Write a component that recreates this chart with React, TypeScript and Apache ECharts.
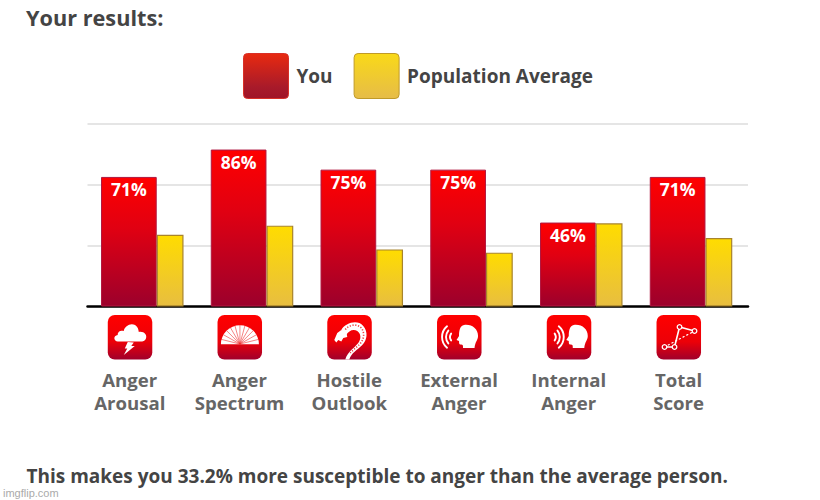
import React, { useEffect, useRef } from "react";
import * as echarts from "echarts";

const categories = ["Anger\nArousal", "Anger\nSpectrum", "Hostile\nOutlook", "External\nAnger", "Internal\nAnger", "Total\nScore"];
const youValues = [71, 86, 75, 75, 46, 71];
const averageValues = [39.3, 44.3, 31.3, 29.5, 45.6, 37.5];
const iconNames = ["storm", "fan", "snake", "external", "internal", "score"];
const FONT = '"Open Sans", sans-serif';
const SWATCH = "path://M4 0H41A4 4 0 0 1 45 4V41A4 4 0 0 1 41 45H4A4 4 0 0 1 0 41V4A4 4 0 0 1 4 0Z";

const HEAD = "M27 10C35 9 41 14 41 21C41 25 38 27 37.5 33L26 33C26 30.5 26 29.5 24 29.5L23 29.5C22 29 22 27.5 22 26L19.5 25L22 21C22 15 23 11 27 10Z";
const shapes: Record<string, string> = {
  cloud: "M10 26.5C6 26.5 5 20.5 10 20C9.5 16 14 15 16 16C17 10 26 6 30 13C30.5 14.5 31 16 31 17C36 16 40 20 38 24C37 26 35 26.5 33 26.5Z",
  bolt: "M20 27L26 27.5L23.5 31L27 31L16 40L19.5 33.5L17 33.5Z",
  disc: "M3.4 29.3A19 19 0 0 1 41.4 29.3Z",
  spokes: "M22.4 29L3.9 24.4M22.4 29L6 19.8M22.4 29L9 15.6M22.4 29L13 12.8M22.4 29L17.5 11M22.4 29L22.4 10.3M22.4 29L27.3 11M22.4 29L31.8 12.8M22.4 29L35.8 15.6M22.4 29L38.8 19.8M22.4 29L40.9 24.4",
  snakeHood: "M14 15C18 8 30 4 36 11C41 17 40 25 35 30C30 35 24 38 22 44.5L18 44.5C20 37 27 33 31 28C34 24 34 19 30 16C26 13.5 21 16 19 20Z",
  snakeRibs: "M18 14.5C22 9.5 30 8.5 34 13C37.5 17 37 24 33 28.5C30 32 26 34.5 23 38",
  snakeHead: "M7 25L10 18L14 15L19 17L20 22L16 23L14 26.5L11 25L9 27.5Z",
  head: HEAD,
  wavesOut: "M10 11.3A14 14 0 0 0 10 32.7M11.3 15.6A10 10 0 0 0 11.3 28.4M14.1 18.6A6 6 0 0 0 14.1 25.4",
  wavesIn: "M12 11.3A14 14 0 0 1 12 32.7M10.7 15.6A10 10 0 0 1 10.7 28.4M7.9 18.6A6 6 0 0 1 7.9 25.4",
  scoreLine: "M8 32L18 32L23 12L38 16",
  scoreDots: "M8 32L38 16",
};
Object.keys(shapes).forEach((k) => {
  echarts.graphic.registerShape("ic_" + k, echarts.graphic.extendPath(shapes[k], {}) as any);
});

const v = (a: string, b: string, mid?: number, c?: string) =>
  new echarts.graphic.LinearGradient(0, 0, 0, 1,
    mid === undefined
      ? [{ offset: 0, color: a }, { offset: 1, color: b }]
      : [{ offset: 0, color: a }, { offset: mid, color: c as string }, { offset: 1, color: b }]);

const fill = (name: string) => ({ type: "ic_" + name, style: { fill: "#fff" } });
const line = (name: string, w: number, color = "#fff", extra: any = {}) => ({
  type: "ic_" + name,
  style: { fill: "none", stroke: color, lineWidth: w, lineCap: "round", ...extra },
});
const dot = (cx: number, cy: number) => ({
  type: "circle",
  shape: { cx, cy, r: 2.3 },
  style: { fill: "#e00014", stroke: "#fff", lineWidth: 1.3 },
});

const iconParts: Record<string, any[]> = {
  storm: [fill("cloud"), fill("bolt")],
  fan: [fill("disc"), line("spokes", 0.6, "#ee3030")],
  snake: [fill("snakeHood"), fill("snakeHead"), line("snakeRibs", 1.6, "#ee4040", { lineCap: "butt", lineDash: [1.2, 1.6] })],
  external: [fill("head"), line("wavesOut", 1.9)],
  internal: [fill("head"), line("wavesIn", 1.9)],
  score: [
    line("scoreDots", 1.2, "#fff", { lineDash: [1.2, 3] }),
    line("scoreLine", 1.6),
    dot(8, 32), dot(18, 32), dot(23, 12), dot(38, 16),
  ],
};

export default function App() {
  const ref = useRef<HTMLDivElement>(null);
  useEffect(() => {
    document.body.style.margin = "0";
    const chart = echarts.init(ref.current as HTMLDivElement, undefined, { renderer: "svg" });
    const redFill = v("#ff0000", "#9c002c", 0.4, "#e00012");
    const yellowFill = v("#ffdc00", "#e8be40");
    chart.setOption({
      animation: false,
      backgroundColor: "#ffffff",
      title: [
        { text: "Your results:", left: 26, top: 6, padding: 0, textStyle: { fontFamily: FONT, fontWeight: 700, fontSize: 21.7, color: "#444444" } },
        { text: "This makes you 33.2% more susceptible to anger than the average person.", left: 26.5, top: 466, padding: 0, textStyle: { fontFamily: FONT, fontWeight: 700, fontSize: 19, color: "#444444" } },
        { text: "imgflip.com", left: 3, top: 487, padding: 0, textStyle: { fontFamily: "Liberation Sans, sans-serif", fontWeight: 400, fontSize: 11, color: "#aaaaaa" } },
      ],
      legend: {
        left: 243,
        top: 53,
        padding: 0,
        itemWidth: 45,
        itemHeight: 45,
        itemGap: 21,
        icon: SWATCH,
        selectedMode: false,
        textStyle: { fontFamily: FONT, fontWeight: 700, fontSize: 19, color: "#444444", padding: [0, 0, 2, 3] },
        data: [
          { name: "You", itemStyle: { color: v("#e82a10", "#a01428", 0.75, "#a81a2a"), borderColor: "#d83028", borderWidth: 1 } },
          { name: "Population Average", itemStyle: { color: v("#f9d918", "#e6bc48"), borderColor: "#c09a28", borderWidth: 1 } },
        ],
      },
      grid: [
        { left: 87.5, width: 660.5, top: 124, height: 182.5 },
        { left: 87.4, width: 658.5, top: 124, height: 182.5 },
      ],
      xAxis: [
        {
          type: "category", gridIndex: 0, data: categories,
          axisLine: { lineStyle: { color: "#000000", width: 2.5 } },
          axisTick: { show: false }, axisLabel: { show: false },
        },
        {
          type: "category", gridIndex: 1, data: categories,
          axisLine: { show: false }, axisTick: { show: false },
          axisLabel: {
            interval: 0, margin: 61, fontFamily: FONT, fontWeight: 700, fontSize: 18.6,
            lineHeight: 23, color: "#666666", padding: [0, 25, 0, 0],
          },
        },
      ],
      yAxis: [
        {
          type: "value", gridIndex: 0, min: 0, max: 100, interval: 100 / 3,
          axisLine: { show: false }, axisTick: { show: false }, axisLabel: { show: false },
          splitLine: { lineStyle: { color: "#dddddd", width: 1.5 } },
        },
        { type: "value", gridIndex: 1, min: 0, max: 100, show: false, splitLine: { show: false } },
      ],
      series: [
        {
          name: "You", type: "bar", xAxisIndex: 1, yAxisIndex: 1, data: youValues,
          barWidth: 55.7, barGap: 0,
          itemStyle: { color: redFill, borderColor: "#b01840", borderWidth: 1 },
          label: {
            show: true, position: "insideTop", distance: 3.5, formatter: "{c}%",
            color: "#ffffff", fontFamily: FONT, fontWeight: 700, fontSize: 17.5,
          },
        },
        {
          name: "Population Average", type: "bar", xAxisIndex: 1, yAxisIndex: 1, data: averageValues,
          barWidth: 26.8, barGap: 0,
          itemStyle: { color: yellowFill, borderColor: "#a8842c", borderWidth: 1.2 },
        },
        {
          name: "icons", type: "custom", xAxisIndex: 1, yAxisIndex: 1, silent: true, z: 5,
          data: iconNames.map((_, i) => [i, 0]),
          renderItem: (_p: any, api: any) => {
            const idx = api.value(0);
            const pt = api.coord([idx, 0]);
            return {
              type: "group",
              x: pt[0] - 12.3 - 22.2,
              y: pt[1] + 8.5,
              children: [
                {
                  type: "rect",
                  shape: { x: 0, y: 0, width: 44.5, height: 44.5, r: 7 },
                  style: { fill: v("#ff0000", "#a0002c", 0.6, "#ec0008") },
                },
                ...iconParts[iconNames[idx]],
              ],
            };
          },
        },
      ],
    });
    return () => chart.dispose();
  }, []);
  return <div ref={ref} style={{ position: "absolute", left: 0, top: 0, width: 820, height: 500 }} />;
}
